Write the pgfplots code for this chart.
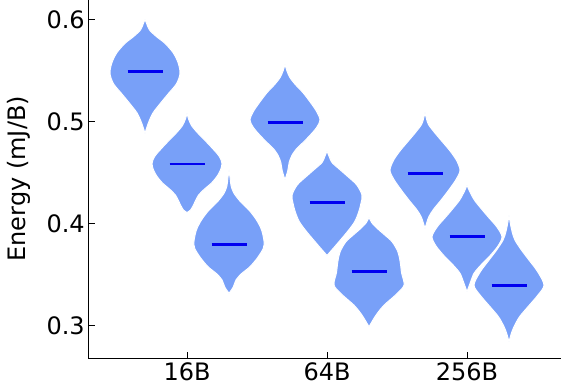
\documentclass[border=0pt]{standalone}
\usepackage{fontspec}
\setmainfont{DejaVu Sans}
\usepackage{pgfplots}
\pgfplotsset{compat=1.18}
\usepackage{pgfplotstable}
\usepgfplotslibrary{fillbetween}
\definecolor{vfill}{RGB}{120,160,248}
\definecolor{vmed}{RGB}{0,0,240}

% violin outlines: v = value, w = half width as a fraction of the widest
\pgfplotstableread{
v w
0.600 0
0.5955 0.05
0.5895 0.13
0.583 0.33
0.5765 0.57
0.567 0.81
0.557 0.95
0.547 1.00
0.537 0.90
0.527 0.66
0.517 0.42
0.508 0.22
0.498 0.09
0.4885 0
}\vA
\pgfplotstableread{
v w
0.508 0
0.502 0.05
0.496 0.13
0.489 0.30
0.482 0.50
0.474 0.72
0.466 0.92
0.459 1.00
0.452 0.95
0.446 0.85
0.4395 0.69
0.434 0.50
0.428 0.33
0.423 0.25
0.418 0.18
0.4134 0.10
0.411 0
}\vB
\pgfplotstableread{
v w
0.4526 0
0.445 0.03
0.437 0.06
0.430 0.14
0.4215 0.33
0.4134 0.57
0.404 0.78
0.394 0.93
0.383 1.00
0.376 0.98
0.367 0.82
0.358 0.60
0.351 0.35
0.345 0.20
0.338 0.12
0.332 0
}\vC
\pgfplotstableread{
v w
0.556 0
0.550 0.05
0.543 0.14
0.536 0.30
0.528 0.52
0.519 0.72
0.510 0.90
0.5015 1.00
0.494 0.90
0.486 0.70
0.479 0.50
0.4738 0.34
0.467 0.20
0.460 0.12
0.452 0.08
0.443 0
}\vD
\pgfplotstableread{
v w
0.4711 0
0.466 0.06
0.460 0.14
0.4535 0.35
0.446 0.60
0.438 0.85
0.428 1.00
0.420 0.97
0.411 0.90
0.402 0.79
0.393 0.60
0.3824 0.34
0.376 0.18
0.369 0
}\vE
\pgfplotstableread{
v w
0.4063 0
0.401 0.08
0.395 0.25
0.389 0.45
0.3824 0.66
0.373 0.82
0.363 0.89
0.352 0.93
0.340 1.00
0.331 0.78
0.3204 0.43
0.313 0.25
0.3074 0.14
0.2992 0
}\vF
\pgfplotstableread{
v w
0.5087 0
0.503 0.04
0.497 0.10
0.4885 0.29
0.480 0.50
0.471 0.72
0.462 0.90
0.4525 1.00
0.444 0.90
0.434 0.70
0.4232 0.46
0.414 0.24
0.4069 0.11
0.401 0.05
0.3955 0
}\vG
\pgfplotstableread{
v w
0.4379 0
0.432 0.07
0.4232 0.21
0.415 0.40
0.4069 0.60
0.397 0.85
0.3873 1.00
0.378 0.88
0.3677 0.63
0.359 0.38
0.3515 0.20
0.343 0.10
0.3335 0
}\vH
\pgfplotstableread{
v w
0.4085 0
0.400 0.04
0.392 0.09
0.384 0.17
0.374 0.36
0.3645 0.57
0.353 0.82
0.340 1.00
0.330 0.82
0.3188 0.54
0.309 0.30
0.2992 0.14
0.292 0.06
0.2845 0
}\vI

\newcommand{\violin}[3]{%
  \addplot[name path=R#3, draw=none, smooth, forget plot] table[x expr=#1+0.25*\thisrow{w}, y=v]{#2};
  \addplot[name path=L#3, draw=none, smooth, forget plot] table[x expr=#1-0.25*\thisrow{w}, y=v]{#2};
  \addplot[fill=vfill, draw=none, forget plot] fill between[of=R#3 and L#3];
  \addplot[white, line width=1pt, smooth, forget plot] table[x expr=#1+0.25*\thisrow{w}, y=v]{#2};
  \addplot[white, line width=1pt, smooth, forget plot] table[x expr=#1-0.25*\thisrow{w}, y=v]{#2};
}

\begin{document}
\begin{tikzpicture}
\begin{axis}[
  name=ax,
  scale only axis,
  width=477.4pt, height=359.85pt,
  xmin=-0.705, xmax=2.705, ymin=0.268, ymax=0.62,
  axis x line*=bottom, axis y line*=left,
  axis line style={line width=1.3pt, -},
  tick align=inside,
  major tick length=7pt,
  tick style={line width=1pt, black},
  xtick={0,1,2}, xticklabels={16B,64B,256B},
  ytick={0.3,0.4,0.5,0.6},
  yticklabel style={/pgf/number format/fixed, /pgf/number format/precision=1},
  /pgf/number format/assume math mode=true,
  scaled y ticks=false,
  ticklabel style={font=\fontsize{24}{28}\selectfont},
  ylabel={Energy (mJ/B)},
  ylabel style={font=\fontsize{24}{28}\selectfont, at={(axis description cs:-0.1452,0.5)}, anchor=center},
]
\violin{-0.3}{\vA}{a}
\violin{0}{\vB}{b}
\violin{0.3}{\vC}{c}
\violin{0.7}{\vD}{d}
\violin{1.0}{\vE}{e}
\violin{1.3}{\vF}{f}
\violin{1.7}{\vG}{g}
\violin{2.0}{\vH}{h}
\violin{2.3}{\vI}{i}
\addplot[vmed, line width=2.9pt] coordinates {(-0.425,0.549) (-0.175,0.549)};
\addplot[vmed, line width=2.9pt] coordinates {(-0.125,0.4585) (0.125,0.4585)};
\addplot[vmed, line width=2.9pt] coordinates {(0.175,0.3795) (0.425,0.3795)};
\addplot[vmed, line width=2.9pt] coordinates {(0.575,0.499) (0.825,0.499)};
\addplot[vmed, line width=2.9pt] coordinates {(0.875,0.4206) (1.125,0.4206)};
\addplot[vmed, line width=2.9pt] coordinates {(1.175,0.3537) (1.425,0.3537)};
\addplot[vmed, line width=2.9pt] coordinates {(1.575,0.4493) (1.825,0.4493)};
\addplot[vmed, line width=2.9pt] coordinates {(1.875,0.3873) (2.125,0.3873)};
\addplot[vmed, line width=2.9pt] coordinates {(2.175,0.3395) (2.425,0.3395)};
\coordinate (O) at (rel axis cs:0,0);
\end{axis}
\pgfresetboundingbox
\useasboundingbox ([shift={(-88.3pt,-32.3pt)}]O) rectangle ([shift={(472.7pt,358.7pt)}]O);
\end{tikzpicture}
\end{document}
